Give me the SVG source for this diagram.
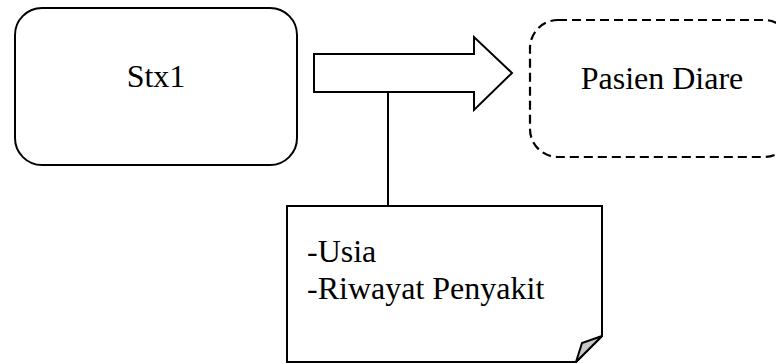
<svg xmlns="http://www.w3.org/2000/svg" width="776" height="363" viewBox="0 0 776 363">
  <style>
    .shape { fill: #ffffff; stroke: #000000; stroke-width: 2; }
    .dashed { fill: #ffffff; stroke: #000000; stroke-width: 2.2; stroke-dasharray: 9 5; }
    .label { font-family: "Liberation Serif", "Times New Roman", serif; font-size: 32px; fill: #000000; }
    .line { fill: none; stroke: #000000; stroke-width: 2; }
  </style>

  <!-- source node -->
  <g id="stx1">
    <rect class="shape" x="15" y="8" width="282" height="157" rx="27" ry="27"/>
    <text class="label" x="156" y="87" text-anchor="middle">Stx1</text>
  </g>

  <!-- target node (dashed) -->
  <g id="pasien-diare">
    <rect class="dashed" x="530" y="20" width="262" height="137" rx="28" ry="28"/>
    <text class="label" x="662" y="89" text-anchor="middle">Pasien Diare</text>
  </g>

  <!-- connectors: block arrow and the stem down to the note -->
  <g id="connectors">
    <polygon class="shape" points="314,54 474,54 474,37 512,73 474,110 474,92 314,92"/>
    <line class="line" x1="388" y1="92" x2="388" y2="206"/>
  </g>

  <!-- note with folded corner -->
  <g id="note">
    <polygon class="shape" points="287,206 602,206 602,336 576,362 287,362"/>
    <polygon fill="#c8c8c8" stroke="#000000" stroke-width="2" points="602,336 582,343 576,362"/>
    <text class="label" x="307" y="262">-Usia</text>
    <text class="label" x="307" y="299">-Riwayat Penyakit</text>
  </g>
</svg>
